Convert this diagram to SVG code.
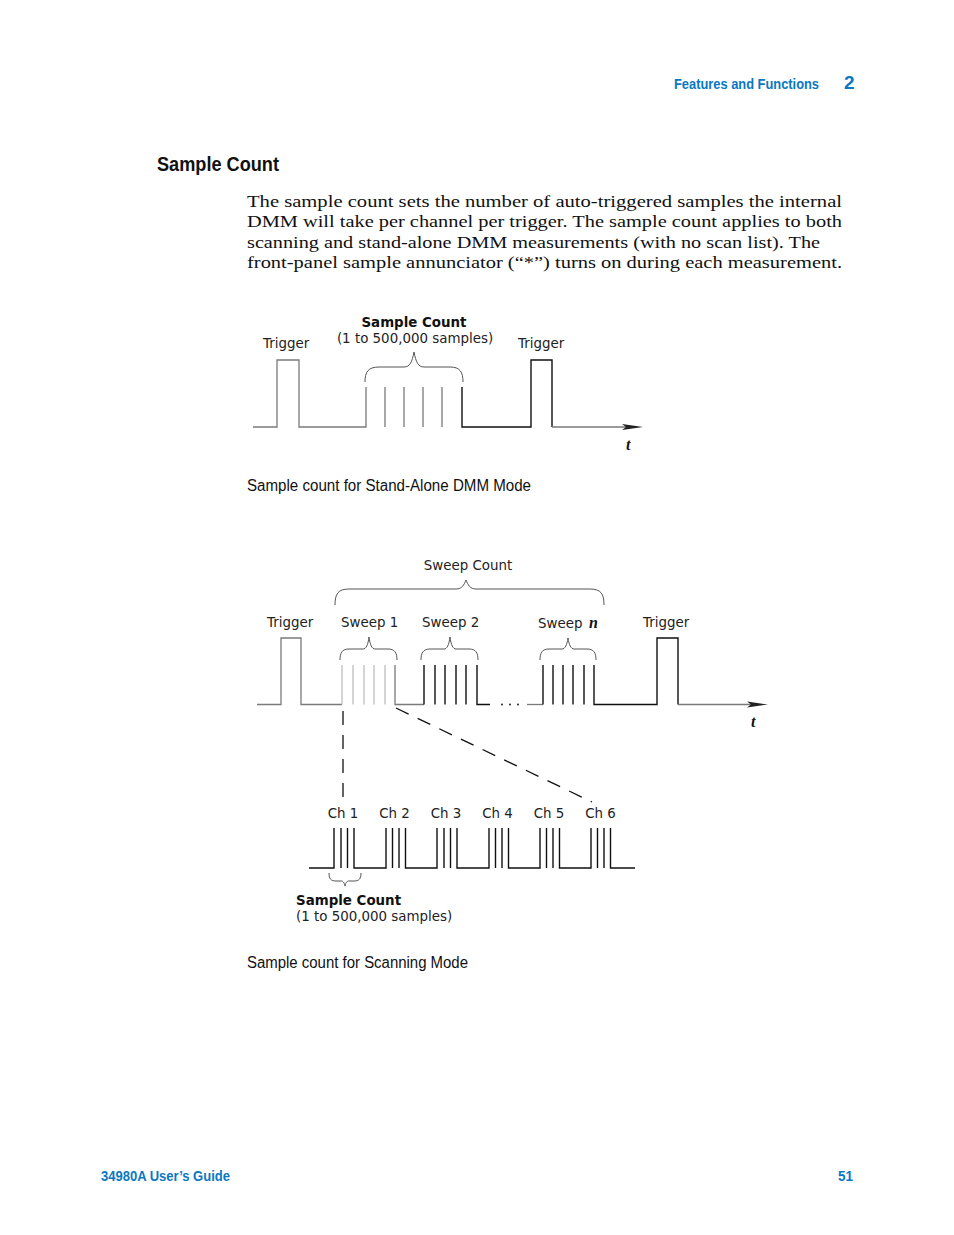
<svg xmlns="http://www.w3.org/2000/svg" width="954" height="1235" viewBox="0 0 954 1235">
<style>
.hdr{font-family:"Liberation Sans Narrow","Liberation Sans",sans-serif;font-weight:bold;fill:#0a78c2}
.h1{font-family:"Liberation Sans Narrow","Liberation Sans",sans-serif;font-weight:bold;font-size:21px;fill:#111}
.body{font-family:"Liberation Serif",serif;font-size:16px;fill:#111}
.cap{font-family:"Liberation Sans Narrow","Liberation Sans",sans-serif;font-size:16px;fill:#111}
.lbl{font-family:"DejaVu Sans",Verdana,sans-serif;font-size:13.4px;fill:#222}
.lblb{font-family:"DejaVu Sans",Verdana,sans-serif;font-size:13.4px;font-weight:bold;fill:#111}
.ital{font-family:"Liberation Serif",serif;font-style:italic;font-weight:bold;font-size:16px;fill:#111}
.g{fill:none;stroke:#7a7a7a;stroke-width:1.3}
.lg{fill:none;stroke:#bdbdbd;stroke-width:1.3}
.k{fill:none;stroke:#111;stroke-width:1.4}
.br{fill:none;stroke:#555;stroke-width:1}
.dash{fill:none;stroke:#111;stroke-width:1.3;stroke-dasharray:14 10}
.arr{fill:#222}
</style>
<g id="header">
<text class="hdr" x="674" y="89" font-size="15" textLength="145" lengthAdjust="spacingAndGlyphs">Features and Functions</text>
<text class="hdr" x="844" y="89" font-size="19">2</text>
</g>
<g id="title"><text class="h1" x="157" y="171" textLength="122" lengthAdjust="spacingAndGlyphs">Sample Count</text></g>
<g id="bodytext">
<text class="body" x="247" y="207" textLength="595" lengthAdjust="spacingAndGlyphs">The sample count sets the number of auto-triggered samples the internal</text>
<text class="body" x="247" y="227" textLength="595" lengthAdjust="spacingAndGlyphs">DMM will take per channel per trigger. The sample count applies to both</text>
<text class="body" x="247" y="248" textLength="573" lengthAdjust="spacingAndGlyphs">scanning and stand-alone DMM measurements (with no scan list). The</text>
<text class="body" x="247" y="268" textLength="595" lengthAdjust="spacingAndGlyphs">front-panel sample annunciator (“*”) turns on during each measurement.</text>
</g>

<!-- Diagram 1 -->
<g id="d1-labels">
<text class="lbl" x="263" y="348">Trigger</text>
<text class="lblb" x="414" y="327" text-anchor="middle">Sample Count</text>
<text class="lbl" x="415" y="343" text-anchor="middle">(1 to 500,000 samples)</text>
<text class="lbl" x="518" y="348">Trigger</text>
<text class="ital" x="626" y="450">t</text>
</g>
<g id="d1-connectors">
<path class="g" d="M253,427 H277 V360 H299 V427 H366 V387"/>
<path class="g" d="M385,387 V427 M404,387 V427 M423,387 V427 M442,387 V427"/>
<path class="k" d="M462,387 V427 H531 V360 H552 V427"/>
<path class="g" d="M552,427 H628"/>
<polygon class="arr" points="622,424 643,427 622,430 626,427"/>
<path class="br" d="M365,382 C365,372 368,367 379,367 L404,367 C410,367 412,362 414,352 C416,362 418,367 424,367 L450,367 C460,367 463,372 463,382"/>
</g>
<g id="caption1"><text class="cap" x="247" y="491" textLength="284" lengthAdjust="spacingAndGlyphs">Sample count for Stand-Alone DMM Mode</text></g>

<!-- Diagram 2 -->
<g id="d2-labels">
<text class="lbl" x="468" y="570" text-anchor="middle">Sweep Count</text>
<text class="lbl" x="267" y="627">Trigger</text>
<text class="lbl" x="341" y="627">Sweep 1</text>
<text class="lbl" x="422" y="627">Sweep 2</text>
<text class="lbl" x="538" y="628">Sweep</text>
<text class="ital" x="589" y="628" font-size="14">n</text>
<text class="lbl" x="643" y="627">Trigger</text>
<text class="ital" x="751" y="727">t</text>
<text class="lbl" x="343" y="818" text-anchor="middle">Ch 1</text>
<text class="lbl" x="394.5" y="818" text-anchor="middle">Ch 2</text>
<text class="lbl" x="446" y="818" text-anchor="middle">Ch 3</text>
<text class="lbl" x="497.5" y="818" text-anchor="middle">Ch 4</text>
<text class="lbl" x="549" y="818" text-anchor="middle">Ch 5</text>
<text class="lbl" x="600.5" y="818" text-anchor="middle">Ch 6</text>
<text class="lblb" x="296" y="905">Sample Count</text>
<text class="lbl" x="296" y="921">(1 to 500,000 samples)</text>
</g>
<g id="d2-connectors">
<path class="br" d="M335,605 C335,594 338,589 349,589 L456,589 C462,589 464,585 466,580 C468,585 470,589 476,589 L590,589 C601,589 604,594 604,605"/>
<path class="br" d="M340,660 C340,653 342,649 349,649 L363,649 C366,649 368,645 369,637 C370,645 372,649 375,649 L388,649 C395,649 397,653 397,660"/>
<path class="br" d="M421,660 C421,653 423,649 430,649 L444,649 C447,649 449,645 450,637 C451,645 453,649 456,649 L469,649 C476,649 478,653 478,660"/>
<path class="br" d="M540,660 C540,653 542,649 549,649 L562,649 C565,649 567,645 568,638 C569,645 571,649 574,649 L587,649 C594,649 596,653 596,660"/>
<path class="g" d="M257,704.5 H281 V638 H301 V704.5 H342"/>
<path class="lg" d="M342,704.5 V665 M353,704.5 V665 M364,704.5 V665 M374,704.5 V665 M385,704.5 V665"/>
<path class="g" d="M395,665 V704.5 H424"/>
<path class="k" d="M424,704.5 V665 M435,704.5 V665 M445,704.5 V665 M456,704.5 V665 M466,704.5 V665 M477,665 V704.5 H490"/>
<g fill="#111"><circle cx="502" cy="704.5" r="0.9"/><circle cx="510" cy="704.5" r="0.9"/><circle cx="518" cy="704.5" r="0.9"/></g>
<path class="g" d="M527,704.5 H543"/>
<path class="k" d="M543,704.5 V665 M553,704.5 V665 M563,704.5 V665 M573,704.5 V665 M584,704.5 V665 M594,665 V704.5 H657 V638 H678 V704.5"/>
<path class="g" d="M678,704.5 H752"/>
<polygon class="arr" points="747,701.5 768,704.5 747,707.5 751,704.5"/>
<path class="dash" d="M343,711 V800"/>
<path class="dash" d="M396,708 L592,802" stroke-dasharray="18 11"/>
<path class="k" d="M309,868 H334 V828 M341,868 V828 M347.5,868 V828 M354,828 V868 H386 V828 M392.5,868 V828 M399,868 V828 M405.5,828 V868 H437 V828 M444,868 V828 M450.5,868 V828 M457,828 V868 H489 V828 M495.5,868 V828 M502,868 V828 M508.5,828 V868 H540 V828 M546.5,868 V828 M553,868 V828 M559.5,828 V868 H591 V828 M597.5,868 V828 M604,868 V828 M610.5,828 V868 H635"/>
<path class="br" d="M329,873 C329,879 331,881 336,881 L341,881 C343,881 344,882 345,886 C346,882 347,881 349,881 L354,881 C359,881 361,879 361,873"/>
</g>
<g id="caption2"><text class="cap" x="247" y="968" textLength="221" lengthAdjust="spacingAndGlyphs">Sample count for Scanning Mode</text></g>
<g id="footer">
<text class="hdr" x="101" y="1181" font-size="15" textLength="129" lengthAdjust="spacingAndGlyphs">34980A User’s Guide</text>
<text class="hdr" x="838" y="1181" font-size="15" textLength="15" lengthAdjust="spacingAndGlyphs">51</text>
</g>
</svg>
